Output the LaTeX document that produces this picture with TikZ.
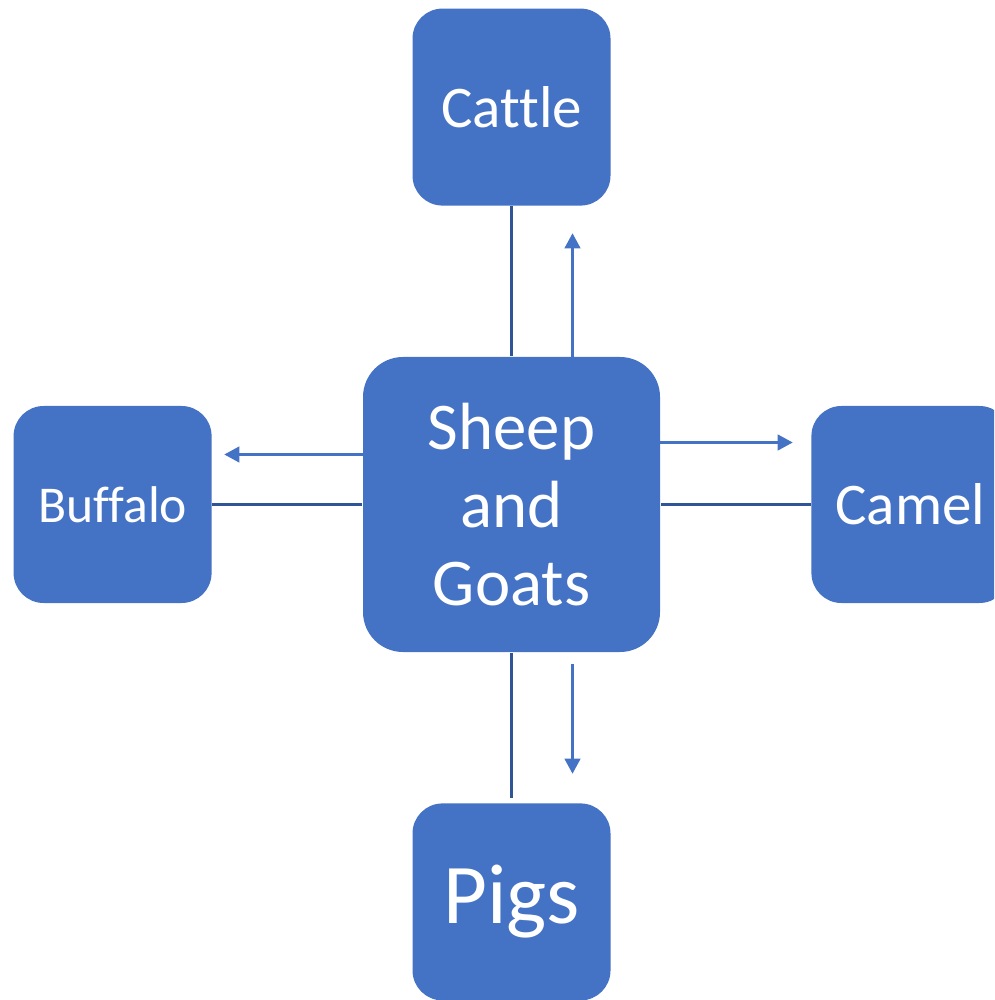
\documentclass[tikz,border=0pt]{standalone}
\usepackage{fontspec}
\setmainfont[Ligatures=CommonOff]{Carlito}
\usepackage{tikz}
\usetikzlibrary{arrows.meta, positioning}
\definecolor{boxblue}{HTML}{4472C4}
\definecolor{linkblue}{HTML}{2F5597}

\begin{document}
\begin{tikzpicture}[
      node distance = 1.5cm,
      every node/.style = {text=white, inner sep=0pt},
      animal/.style = {
        rectangle, rounded corners=0.3cm,
        minimum width=1.98cm, minimum height=1.97cm,
        align=center, fill=boxblue,
        font=\fontsize{16.8}{20}\selectfont
      },
      hub/.style = {animal, rounded corners=0.4cm,
        minimum width=2.97cm, minimum height=2.95cm,
        font=\fontsize{19}{22.3}\selectfont},
      link/.style = {line width=0.6pt, linkblue},
      arr/.style = {-{Triangle[length=4.3pt, width=4.5pt]},
                    line width=0.6pt, boxblue},
    ]
    \clip (0,0) rectangle (9.94,-10);
    \node[hub] (sheep) at (5.115,-5.045) {Sheep\\and\\Goats};
    \node[animal, above=of sheep] (cattle) {Cattle};
    \node[animal, left=of sheep, font=\fontsize{14.7}{17}\selectfont] (buffalo) {Buffalo};
    \node[animal, right=of sheep] (camel) {Camel};
    \node[animal, below=of sheep, font=\fontsize{24.2}{28}\selectfont] (pigs) {Pigs};
    % plain links
    \draw[link] (cattle) -- (sheep);
    \draw[link] (buffalo) -- (sheep);
    \draw[link] (camel) -- (sheep);
    \draw[link, shorten <=0.05cm] (pigs) -- (sheep);
    % arrows out of the hub
    \draw[arr, shorten <=-0.07cm, shorten >=0.27cm]
      ([xshift=0.61cm]sheep.north) -- ([xshift=0.61cm]sheep.north |- cattle.south);
    \draw[arr, shorten <=-0.03cm, shorten >=0.12cm]
      ([yshift=0.5cm]sheep.west) -- ([yshift=0.5cm]sheep.west -| buffalo.east);
    \draw[arr, shorten <=-0.03cm, shorten >=0.18cm]
      ([yshift=0.62cm]sheep.east) -- ([yshift=0.62cm]sheep.east -| camel.west);
    \draw[arr, shorten <=0.11cm, shorten >=0.29cm]
      ([xshift=0.61cm]sheep.south) -- ([xshift=0.61cm]sheep.south |- pigs.north);
\end{tikzpicture}
\end{document}
